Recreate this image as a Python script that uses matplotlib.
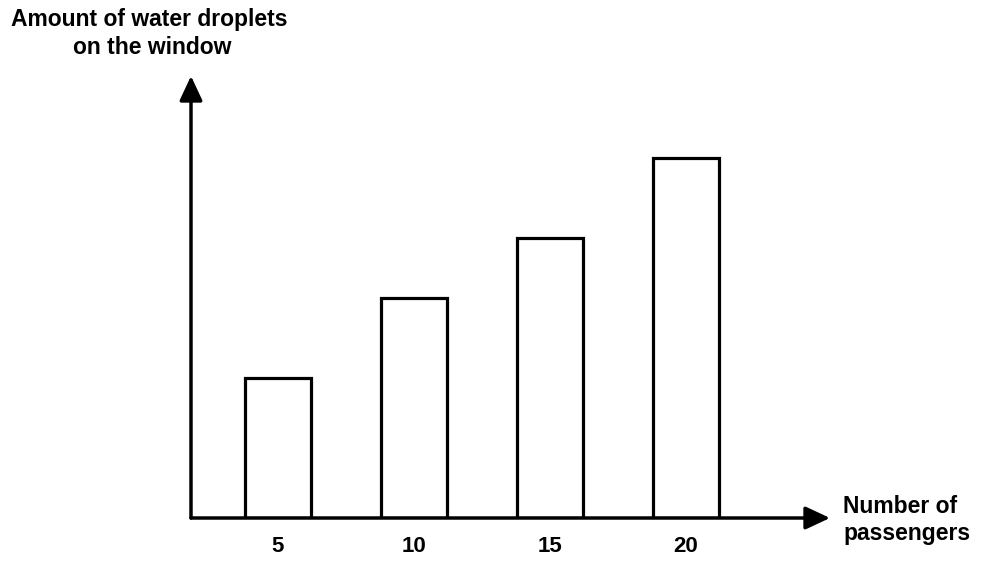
import matplotlib.pyplot as plt

# data (arbitrary units, no scale shown)
passengers = [5, 10, 15, 20]
droplets = [35, 55, 70, 90]
tick_labels = ['5', '10', '15', '20']

plt.rcParams['font.family'] = ['Liberation Sans', 'DejaVu Sans']
plt.rcParams['font.weight'] = 'bold'

fig = plt.figure(figsize=(9.81, 5.62), dpi=100)
ax = fig.add_axes([191 / 981, 44 / 562, 639 / 981, 442 / 562])

ax.bar(passengers, droplets, width=2.4, facecolor='white', edgecolor='black', linewidth=2.3)

ax.set_xlim(1.8, 25.3)
ax.set_ylim(0, 110.5)

for s in ax.spines.values():
    s.set_visible(False)

# axes drawn as arrows
arrow = dict(arrowstyle='-|>,head_length=1.5,head_width=0.7', color='black', lw=2.5,
             shrinkA=0, shrinkB=0)
ax.annotate('', xy=(1, 0), xytext=(0, 0), xycoords='axes fraction', arrowprops=arrow)
ax.annotate('', xy=(0, 1), xytext=(0, 0), xycoords='axes fraction', arrowprops=arrow)

ax.set_xticks(passengers)
ax.set_xticklabels(tick_labels, fontsize=16, fontweight='bold')
ax.tick_params(axis='x', length=0, pad=13)
ax.set_yticks([])

fig.text(149 / 981, 1 - 26 / 562, 'Amount of water droplets', ha='center', va='baseline', fontsize=16.5)
fig.text(152 / 981, 1 - 54 / 562, 'on the window', ha='center', va='baseline', fontsize=16.5)
fig.text(843 / 981, 1 - 513 / 562, 'Number of', ha='left', va='baseline', fontsize=16.5)
fig.text(843 / 981, 1 - 540 / 562, 'passengers', ha='left', va='baseline', fontsize=16.5)

fig.savefig('out.png', dpi=100)
